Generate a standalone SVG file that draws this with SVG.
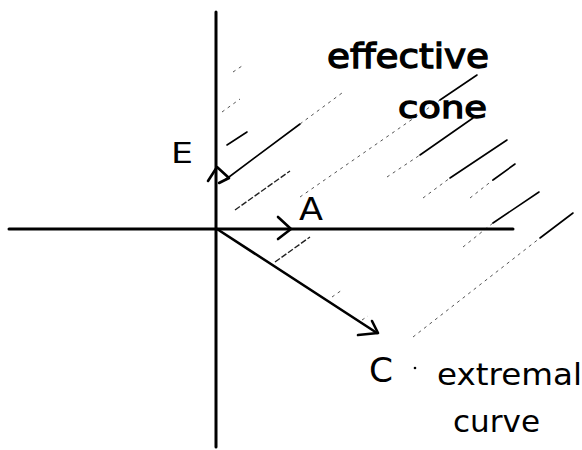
<svg xmlns="http://www.w3.org/2000/svg" width="582" height="450" viewBox="0 0 582 450">
<style>
.axis{stroke:#000;stroke-width:3;fill:none;stroke-linecap:round}
.vec{stroke:#000;stroke-width:2.6;fill:none;stroke-linecap:round;stroke-linejoin:round}
.hs{stroke:#000;stroke-width:1.6;fill:none;stroke-linecap:round}
.hd{stroke:#222;stroke-width:1.4;fill:none;stroke-dasharray:6 2}
.hf{stroke:#555;stroke-width:1;fill:none;stroke-dasharray:3 4}
.lbl{font-family:"DejaVu Sans","Liberation Sans",sans-serif;fill:#000}
.bold{stroke:#000;stroke-width:1.3}
</style>
<rect width="582" height="450" fill="#fff"/>
<g id="hatching">
<line class="hf" x1="233" y1="72" x2="242" y2="66"/>
<line class="hf" x1="222" y1="112" x2="240" y2="99"/>
<line class="hs" x1="227" y1="145" x2="247" y2="132"/>
<line class="hs" x1="225" y1="180" x2="300" y2="124"/>
<line class="hf" x1="300" y1="124" x2="342" y2="93"/>
<line class="hd" x1="235" y1="210" x2="290" y2="171"/>
<line class="hf" x1="300" y1="197" x2="440" y2="100"/>
<line class="hs" x1="440" y1="100" x2="477" y2="75"/>
<line class="hf" x1="387" y1="177" x2="420" y2="155"/>
<line class="hs" x1="420" y1="155" x2="473" y2="118"/>
<line class="hf" x1="423" y1="198" x2="450" y2="178"/>
<line class="hs" x1="450" y1="178" x2="507" y2="140"/>
<line class="hf" x1="470" y1="198" x2="493" y2="180"/>
<line class="hs" x1="493" y1="180" x2="515" y2="164"/>
<line class="hf" x1="463" y1="247" x2="493" y2="223"/>
<line class="hs" x1="493" y1="223" x2="539" y2="192"/>
<line class="hf" x1="413" y1="337" x2="540" y2="238"/>
<line class="hs" x1="540" y1="238" x2="573" y2="213"/>
<line class="hd" x1="275" y1="262" x2="310" y2="237"/>
<line class="hf" x1="332" y1="297" x2="342" y2="290"/>
<line class="hf" x1="362" y1="320" x2="368" y2="316"/>
</g>
<g id="axes">
<line class="axis" x1="216" y1="12" x2="216" y2="447"/>
<line class="axis" x1="9" y1="229" x2="513" y2="229"/>
</g>
<g id="connectors">
<g id="vector-E"><polyline class="vec" points="208,181 217,167 229,178 219,183"/></g>
<g id="vector-A"><polyline class="vec" points="278,217 291,229 278,239"/></g>
<g id="vector-C">
<line class="vec" x1="217" y1="229" x2="377" y2="333"/>
<polyline class="vec" points="372,321 378,333 358,335"/>
</g>
</g>
<g id="label-effective-cone">
<text class="lbl bold" x="327" y="68" font-size="34" textLength="162" lengthAdjust="spacingAndGlyphs">effective</text>
<text class="lbl bold" x="398" y="118" font-size="31" textLength="89" lengthAdjust="spacingAndGlyphs">cone</text>
</g>
<g id="label-E"><text class="lbl" x="171" y="163" font-size="28" textLength="22" lengthAdjust="spacingAndGlyphs">E</text></g>
<g id="label-A"><text class="lbl" x="299" y="220" font-size="32" textLength="24" lengthAdjust="spacingAndGlyphs">A</text></g>
<g id="label-C">
<text class="lbl" x="369" y="382" font-size="33" textLength="24" lengthAdjust="spacingAndGlyphs">C</text>
<circle cx="415" cy="368" r="1.3" fill="#000"/>
</g>
<g id="label-extremal-curve">
<text class="lbl" x="437" y="385" font-size="31" textLength="145" lengthAdjust="spacingAndGlyphs">extremal</text>
<text class="lbl" x="453" y="432" font-size="31" textLength="87" lengthAdjust="spacingAndGlyphs">curve</text>
</g>
</svg>
